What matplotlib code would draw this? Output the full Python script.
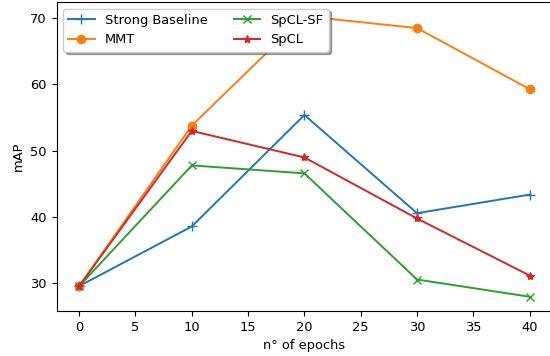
import matplotlib
matplotlib.use('Agg')
import matplotlib.pyplot as plt

# Dados
epochs = [0, 10, 20, 30, 40]
strong_baseline = [29.6, 38.6, 55.4, 40.6, 43.4]
mmt = [29.6, 53.8, 70.3, 68.5, 59.3]
spcl_sf = [29.6, 47.8, 46.6, 30.6, 28.0]
spcl = [29.6, 53.0, 49.0, 39.8, 31.2]

plt.rcParams['font.size'] = 9.4

fig = plt.figure(figsize=(5.5, 3.56), dpi=100)
ax = fig.add_axes([0.103, 0.127, 0.901, 0.867])

ax.plot(epochs, strong_baseline, marker='+', markersize=7, lw=1.4, label='Strong Baseline')
ax.plot(epochs, mmt, marker='o', markersize=6, lw=1.4, label='MMT')
ax.plot(epochs, spcl_sf, marker='x', markersize=6, lw=1.4, label='SpCL-SF')
ax.plot(epochs, spcl, marker='*', markersize=6, lw=1.4, label='SpCL')

ax.set_xticks(range(0, 41, 5))
ax.set_yticks([30, 40, 50, 60, 70])
ax.set_xlabel('n° of epochs')
ax.set_ylabel('mAP')
ax.spines['right'].set_visible(False)

ax.legend(loc='upper left', ncol=2, shadow=True, framealpha=1)

plt.savefig('out.png', dpi=100)
